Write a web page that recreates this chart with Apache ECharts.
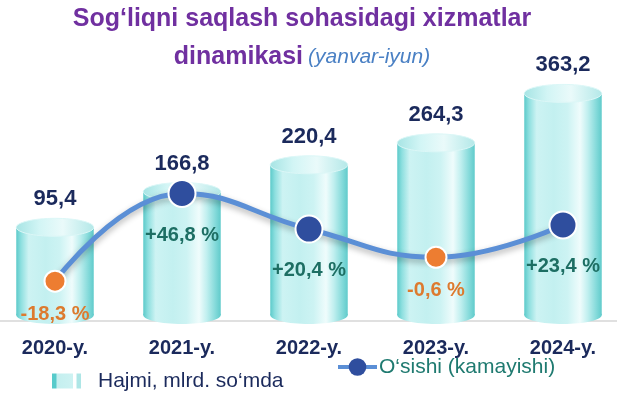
<!DOCTYPE html>
<html><head><meta charset="utf-8">
<script src="https://cdn.jsdelivr.net/npm/echarts@6/dist/echarts.min.js"></script>
<style>html,body{margin:0;padding:0;background:#fff}#c{width:617px;height:399px}</style>
</head><body><div id="c"></div>
<script>
// ---- data ----
const YEARS = ['2020-y.', '2021-y.', '2022-y.', '2023-y.', '2024-y.'];
const VOLUME = [95.4, 166.8, 220.4, 264.3, 363.2];      // Hajmi, mlrd. so'mda
const GROWTH = [-18.3, 46.8, 20.4, -0.6, 23.4];         // O'sishi (kamayishi), %
const TITLE_LINE1 = 'Sog‘liqni saqlash sohasidagi xizmatlar';
const TITLE_LINE2 = 'dinamikasi';
const SUBTITLE = '(yanvar-iyun)';
const NAME_VOLUME = 'Hajmi, mlrd. so‘mda';
const NAME_GROWTH = 'O‘sishi (kamayishi)';

// ---- styling ----
const FONT = "Arial, 'Liberation Sans', sans-serif";
const NAVY = '#1b2a5c';
const TEAL_TXT = '#1d6e63';
const ORANGE_TXT = '#dd7a2e';
const BAR_MIN = -92, BAR_MAX = 470;
const GR_MIN = -47.9, GR_MAX = 160.8;

const fmt = v => v.toFixed(1).replace('.', ',');
const fmtPct = v => (v > 0 ? '+' : '') + v.toFixed(1).replace('.', ',') + ' %';

const grad = (stops) => ({type: 'linear', x: 0, y: 0, x2: 1, y2: 0,
  colorStops: stops.map(s => ({offset: s[0], color: s[1]}))});
const BODY = grad([[0,'#5ccaca'],[0.06,'#8ddfdf'],[0.16,'#cdf3f3'],[0.38,'#c3f0f0'],[0.56,'#cdf3f3'],[0.72,'#effcfc'],[0.82,'#c0efef'],[0.93,'#84dada'],[1,'#60cbcb']]);
const TOP = grad([[0,'#a6e4e4'],[0.3,'#d2f5f5'],[0.6,'#eafafa'],[1,'#b3e8e8']]);
const LEG_ICON = grad([[0,'#57cbcb'],[0.15,'#57cbcb'],[0.16,'#c4efef'],[0.72,'#cdf2f2'],[0.73,'#ffffff'],[0.84,'#ffffff'],[0.85,'#aee6e6'],[1,'#aee6e6']]);

const chart = echarts.init(document.getElementById('c'), null, {renderer: 'canvas'});

const growthData = GROWTH.map(v => {
  const neg = v < 0;
  return {
    value: v,
    symbolSize: neg ? 21 : 27,
    itemStyle: {color: neg ? '#ed7d31' : '#2f4e9e', borderColor: '#ffffff', borderWidth: 2},
    label: {color: neg ? ORANGE_TXT : TEAL_TXT, distance: neg ? 12 : 17}
  };
});

chart.setOption({
  animation: false,
  title: {
    text: '{a|' + TITLE_LINE1 + '}\n{a|' + TITLE_LINE2 + '} {b|' + SUBTITLE + '}',
    left: 302, top: 0, padding: 0, textAlign: 'center',
    textStyle: {
      rich: {
        a: {fontFamily: FONT, fontSize: 25, fontWeight: 'bold', color: '#7030a0', lineHeight: 38},
        b: {fontFamily: FONT, fontSize: 21, fontStyle: 'italic', fontWeight: 'normal', color: '#4a80c4', lineHeight: 38}
      }
    }
  },
  legend: [
    {
      data: [NAME_VOLUME], left: 52, top: 370, padding: 0,
      icon: 'rect', itemWidth: 29, itemHeight: 15,
      itemStyle: {color: LEG_ICON},
      selectedMode: false,
      textStyle: {fontFamily: FONT, fontSize: 21, color: NAVY, lineHeight: 22, padding: [0, 0, 0, 12]}
    },
    {
      data: [NAME_GROWTH], left: 336, top: 356, padding: 0,
      itemWidth: 39, itemHeight: 22,
      selectedMode: false,
      lineStyle: {width: 4, color: '#5b8fd6'},
      textStyle: {fontFamily: FONT, fontSize: 21, color: '#1f7a70', lineHeight: 22, padding: [0, 0, 0, -3]}
    }
  ],
  grid: [
    {left: 55, right: 54, top: 40, bottom: 78, containLabel: false},
    {left: 0, right: 0, top: 40, bottom: 78, containLabel: false}
  ],
  xAxis: [
    {
      type: 'category', data: YEARS, boundaryGap: false, gridIndex: 0,
      axisTick: {show: false},
      axisLine: {show: false},
      splitLine: {show: false},
      axisLabel: {fontFamily: FONT, fontSize: 20, fontWeight: 'bold', color: NAVY, margin: 17}
    },
    {
      type: 'value', gridIndex: 1, min: 0, max: 1,
      axisTick: {show: false}, axisLabel: {show: false}, splitLine: {show: false},
      axisLine: {show: true, onZero: false, lineStyle: {color: '#d6d6d6', width: 1.5}}
    }
  ],
  yAxis: [
    {type: 'value', gridIndex: 0, min: BAR_MIN, max: BAR_MAX, show: false, splitLine: {show: false}},
    {type: 'value', gridIndex: 0, min: GR_MIN, max: GR_MAX, show: false, splitLine: {show: false}},
    {type: 'value', gridIndex: 1, min: 0, max: 1, show: false, splitLine: {show: false}}
  ],
  series: [
    {
      name: NAME_VOLUME, type: 'custom', z: 1,
      xAxisIndex: 0, yAxisIndex: 0,
      itemStyle: {color: LEG_ICON},
      data: VOLUME.map((v, i) => [i, v]),
      encode: {x: 0, y: 1},
      renderItem: function (params, api) {
        const idx = api.value(0), val = api.value(1);
        const top = api.coord([idx, val]);
        const base = api.coord([idx, BAR_MIN]);
        const step = api.size([1, 0])[0];
        const w = step * 0.61, rx = w / 2, ry = 9;
        const cx = top[0], yTop = top[1], yBot = base[1] - 6;
        return {
          type: 'group',
          children: [
            {type: 'ellipse', shape: {cx: cx, cy: yBot, rx: rx, ry: ry}, style: {fill: BODY}},
            {type: 'rect', shape: {x: cx - rx, y: yTop, width: w, height: yBot - yTop}, style: {fill: BODY}},
            {type: 'ellipse', shape: {cx: cx, cy: yTop, rx: rx, ry: ry}, style: {fill: TOP, stroke: '#dcf7f7', lineWidth: 1}},
            {type: 'text', style: {text: fmt(val), x: cx, y: yTop - ry - 8, align: 'center', verticalAlign: 'bottom',
              font: 'bold 22px ' + FONT, fill: NAVY}}
          ]
        };
      }
    },
    {
      name: NAME_GROWTH, type: 'line', xAxisIndex: 0, yAxisIndex: 1, z: 5,
      data: growthData,
      smooth: 0.45,
      symbol: 'circle',
      itemStyle: {color: '#2f4e9e'},
      lineStyle: {color: '#5b8fd6', width: 5, shadowColor: 'rgba(0,0,0,0.3)', shadowBlur: 6, shadowOffsetY: 3},
      label: {show: true, position: 'bottom', formatter: p => fmtPct(p.value),
        fontFamily: FONT, fontSize: 20, fontWeight: 'bold'}
    }
  ]
});
</script>
</body></html>
